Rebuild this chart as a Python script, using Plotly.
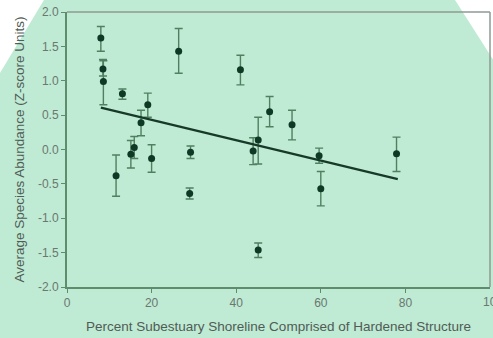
import plotly.graph_objects as go

# Data
pct_hardened = [8.0, 8.5, 8.6, 13.1, 19.1, 17.5, 15.1, 15.9, 11.6, 20.0, 26.4,
                41.0, 47.9, 53.2, 45.2, 44.0, 29.2, 29.0, 45.2, 59.6, 60.0, 77.9]
abundance = [1.62, 1.17, 0.99, 0.81, 0.65, 0.39, -0.07, 0.03, -0.38, -0.13, 1.43,
             1.16, 0.55, 0.36, 0.14, -0.02, -0.04, -0.64, -1.46, -0.09, -0.57, -0.06]
err_plus = [0.17, 0.14, 0.30, 0.07, 0.17, 0.18, 0.20, 0.16, 0.30, 0.20, 0.33,
            0.21, 0.22, 0.21, 0.33, 0.19, 0.09, 0.08, 0.10, 0.11, 0.25, 0.24]
err_minus = [0.19, 0.10, 0.34, 0.08, 0.18, 0.19, 0.20, 0.16, 0.30, 0.20, 0.32,
             0.22, 0.22, 0.22, 0.35, 0.20, 0.09, 0.08, 0.11, 0.11, 0.25, 0.26]
trend_x = [8.0, 78.2]
trend_y = [0.61, -0.43]

x_ticks = [0, 20, 40, 60, 80]
x_last_tick = 100
y_ticks = [-2.0, -1.5, -1.0, -0.5, 0.0, 0.5, 1.0, 1.5, 2.0]

BG = "#BFEAD4"
W, H = 493, 338
ML, MR, MT, MB = 67, 3, 12, 51
PW, PH = W - ML - MR, H - MT - MB


def px2paper(px, py):
    return (px - ML) / PW, (H - MB - py) / PH


def path(points):
    pts = [px2paper(a, b) for a, b in points]
    return "M " + " L ".join(f"{a:.4f},{b:.4f}" for a, b in pts) + " Z"


fig = go.Figure()
fig.add_trace(go.Scatter(
    x=pct_hardened, y=abundance, mode="markers",
    marker=dict(size=7, color="#0E3A25"),
    error_y=dict(type="data", array=err_plus, arrayminus=err_minus,
                 color="#4F8060", thickness=1.4, width=4),
    showlegend=False, cliponaxis=False,
))
fig.add_trace(go.Scatter(
    x=trend_x, y=trend_y, mode="lines",
    line=dict(color="#173A28", width=2.2), showlegend=False,
))

shapes = [
    dict(type="path", xref="paper", yref="paper", path=path([(0, 0), (44, 0), (0, 73)]),
         fillcolor="white", line=dict(width=0), layer="below"),
    dict(type="path", xref="paper", yref="paper", path=path([(455, 0), (494, 0), (494, 61)]),
         fillcolor="white", line=dict(width=0), layer="below"),
    dict(type="line", xref="paper", yref="paper", x0=0, x1=1, y0=1, y1=1,
         line=dict(color="#8E9A92", width=1.5), layer="above"),
    dict(type="line", xref="paper", yref="paper", x0=1, x1=1, y0=0, y1=1,
         line=dict(color="#8E9A92", width=1.5), layer="above"),
]

TICK_COLOR = "#6A786F"
font_family = "Liberation Sans, Arial, sans-serif"
fig.update_layout(
    width=W, height=H,
    margin=dict(l=ML, r=MR, t=MT, b=MB, autoexpand=False),
    paper_bgcolor=BG, plot_bgcolor="rgba(0,0,0,0)",
    font=dict(family=font_family, size=12, color=TICK_COLOR),
    shapes=shapes,
    annotations=[dict(x=x_last_tick, y=0, xref="x", yref="paper", text=str(x_last_tick),
                      showarrow=False, xanchor="center", yanchor="top", yshift=-6,
                      xshift=3, font=dict(size=12, color=TICK_COLOR))],
    xaxis=dict(range=[0, 100], tickvals=x_ticks, ticktext=[str(v) for v in x_ticks],
               showgrid=False, zeroline=False, showline=True, linecolor="#5E8D6E",
               linewidth=2, ticks="outside", ticklen=4, tickcolor="#5E8D6E",
               tickfont=dict(size=12, color=TICK_COLOR),
               title=dict(text="Percent Subestuary Shoreline Comprised of Hardened Structure",
                          font=dict(size=13.5, color="#505C55"), standoff=12)),
    yaxis=dict(range=[-2.0, 2.0], tickvals=y_ticks, ticktext=[f"{v:.1f}" for v in y_ticks],
               showgrid=False, zeroline=False, showline=True, linecolor="#5E8D6E",
               linewidth=2, ticks="outside", ticklen=4, tickcolor="#5E8D6E",
               tickfont=dict(size=12, color=TICK_COLOR),
               title=dict(text="Average Species Abundance (Z-score Units)",
                          font=dict(size=13.5, color="#505C55"), standoff=10)),
)

fig.write_html("out.html")
